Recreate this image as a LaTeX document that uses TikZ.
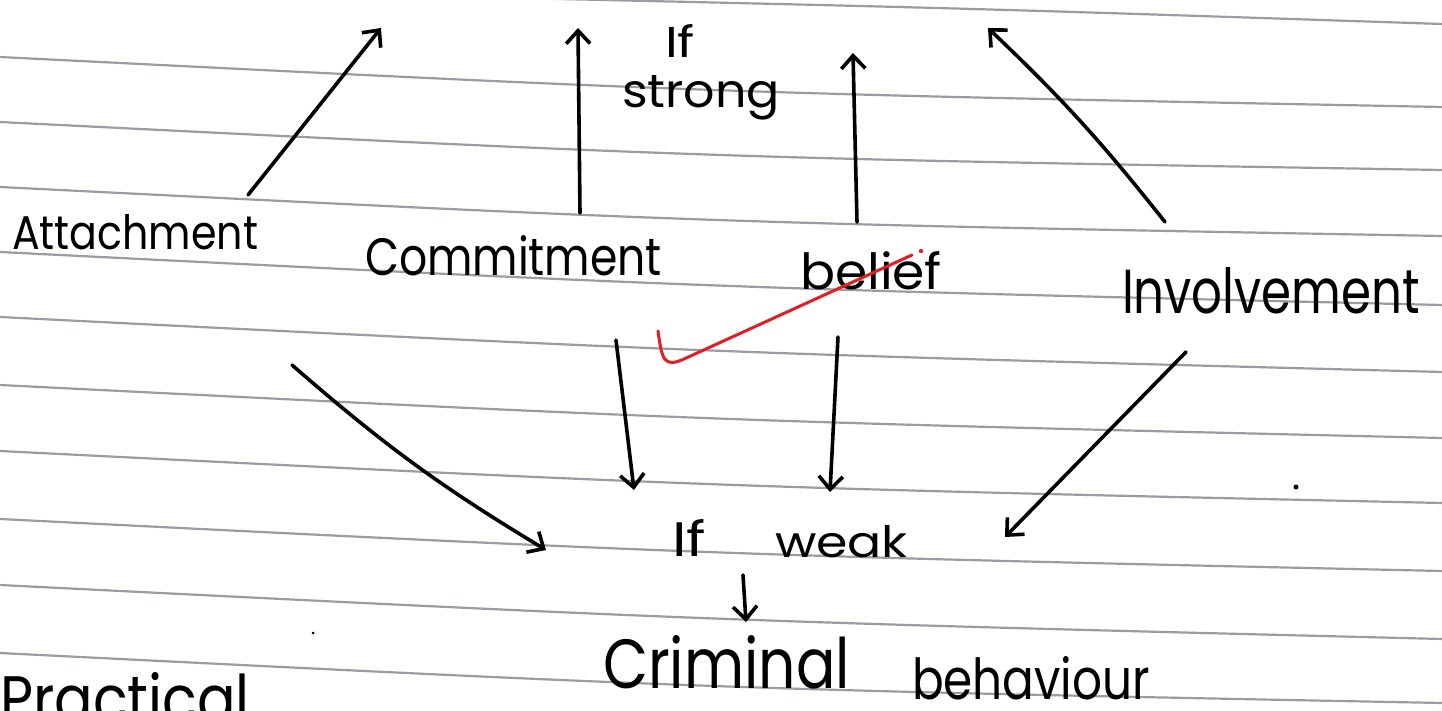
\documentclass[tikz,border=0pt]{standalone}
\usepackage{fontspec}
\setmainfont{Poppins}
\usetikzlibrary{arrows.meta}
\definecolor{ruleg}{RGB}{155,155,165}
\definecolor{tickred}{RGB}{226,30,34}
\tikzset{
  pen/.style={line width=1.8pt, line cap=round, line join=round, black},
  arr/.style={pen, -{Straight Barb[length=6.5pt,width=12pt]}},
  word/.style={anchor=base west, inner sep=0pt, outer sep=0pt},
  paperline/.style={line width=1.1pt, color=ruleg},
  redtick/.style={line width=1.5pt, color=tickred, line cap=round, line join=round},
}
\newcommand\hwbox[3]{\resizebox{#1pt}{#2pt}{#3}}
\begin{document}
\begin{tikzpicture}[x=0.5pt,y=-0.5pt]
\useasboundingbox (0,0) rectangle (1442,711);
\clip (0,0) rectangle (1442,711);
\fill[white] (0,0) rectangle (1442,711);
% ruled paper
\draw[paperline] (470,-3) .. controls (960,8) .. (1442,24);
\foreach \a/\b in {57/107,122/170,187/236,252/305,317/372,385/438,451/503,519/571,585/639,653/703}{
  \draw[paperline] (0,\a) .. controls (721,\a+36) .. (1442,\b);
}
% words
\node[word] (att) at (12,250) {\hwbox{123}{17.5}{Attachment}};
\node[word] (com) at (365,276) {\hwbox{148.5}{20}{Commitment}};
\node[word] (bel) at (800,290) {\hwbox{71}{19}{belief}};
\node[word] (inv) at (1122,314) {\hwbox{149}{23}{Involvement}};
\node[word] (ifs) at (665,58) {\hwbox{15}{16.5}{If}};
\node[word] (strong) at (622,108) {\hwbox{79}{16}{strong}};
\node[word] (ifw) at (672,557) {\hwbox{17}{18.5}{If}};
\node[word] (weak) at (775,557) {\hwbox{66.5}{16}{weak}};
\node[word] (crim) at (603,688) {\hwbox{123.5}{26.5}{Criminal}};
\node[word] (behav) at (912,699) {\hwbox{119}{21.5}{behaviour}};
\node[word] (prac) at (0,722) {\hwbox{125}{25}{Practical}};
% connector end points
\coordinate (attU0) at (248,195);  \coordinate (attU1) at (381,28);
\coordinate (comU0) at (580,213);  \coordinate (comU1) at (578,28);
\coordinate (belU0) at (857,222);  \coordinate (belU1) at (853,53);
\coordinate (invU0) at (1165,222); \coordinate (invU1) at (988,28);
\coordinate (attD0) at (292,365);  \coordinate (attD1) at (546,550);
\coordinate (comD0) at (616,340);  \coordinate (comD1) at (634,490);
\coordinate (belD0) at (838,337);  \coordinate (belD1) at (830,492);
\coordinate (invD0) at (1186,352); \coordinate (invD1) at (1005,537);
\coordinate (weakD0) at (743,575); \coordinate (weakD1) at (746,622);
% arrows
\draw[arr] (attU0) -- (attU1);
\draw[arr] (comU0) -- (comU1);
\draw[arr] (belU0) -- (belU1);
\draw[arr] (invU0) to[bend right=4] (invU1);
\draw[arr] (attD0) to[bend right=5] (attD1);
\draw[arr] (comD0) -- (comD1);
\draw[arr] (belD0) -- (belD1);
\draw[arr] (invD0) -- (invD1);
\draw[arr] (weakD0) -- (weakD1);
% red tick
\draw[redtick] (658,331) .. controls (662,360) and (664,368) .. (684,359) -- (912,255);
\fill[tickred] (921,251) circle (2.2);
% specks
\fill[black] (1296,487) circle (2.5);
\fill[black] (313,633) circle (1.5);
\end{tikzpicture}
\end{document}
